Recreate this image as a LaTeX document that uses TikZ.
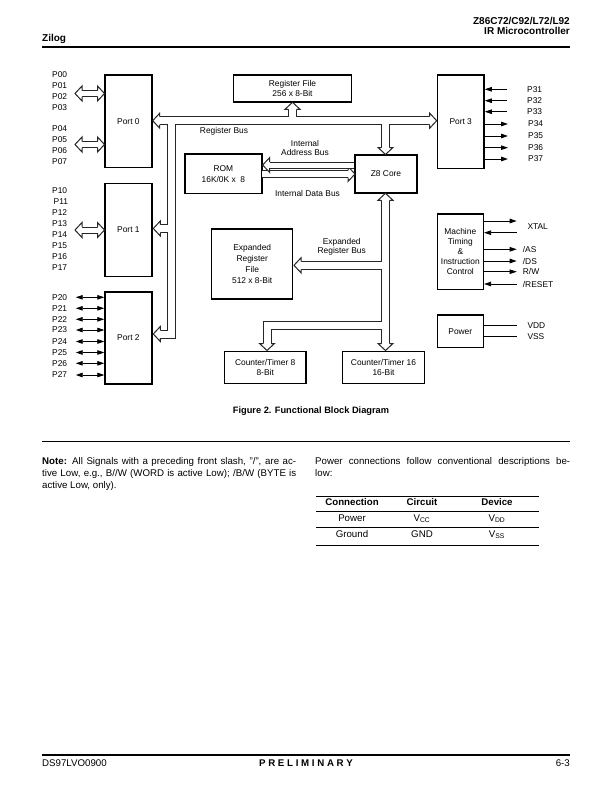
\documentclass[tikz,border=0pt]{standalone}
\usepackage{fontspec}
\setmainfont{Liberation Sans}
\usetikzlibrary{arrows.meta,positioning}

\newcommand\dfont{\fontsize{8.4}{10}\selectfont}
\newcommand\hfont{\fontsize{10}{10}\selectfont\bfseries}
\newcommand\nfont{\fontsize{9.7}{12}\selectfont}
% hollow bus head: [half shaft]{tip}{angle}
\newcommand\bushead[3][4]{%
  \filldraw[bushd,shift={(#2)},rotate=#3] (-7,#1) -- (-7,7.5) -- (0,0) -- (-7,-7.5) -- (-7,-#1);}

\tikzset{
  blk/.style={draw,line width=1.5pt,inner sep=1pt,align=center,font=\dfont},
  pinlbl/.style={anchor=west,inner sep=0pt,font=\dfont},
  buslbl/.style={inner sep=0pt,align=center,font=\fontsize{8.4}{9}\selectfont},
  busout/.style={line width=9pt,draw=black!85,line join=miter},
  busin/.style={line width=7pt,draw=white,line join=miter},
  bushd/.style={draw=black!85,fill=white,line width=1pt,line join=miter},
  sig/.style={-{Triangle[length=7pt,width=4.5pt]},line width=0.8pt},
  sigboth/.style={{Triangle[length=7pt,width=4.5pt]}-{Triangle[length=7pt,width=4.5pt]},line width=0.8pt},
}

\begin{document}
\begin{tikzpicture}[x=1pt,y=-1pt]
\fill[white] (0,0) rectangle (612,792);
\useasboundingbox (0,0) rectangle (612,792);

% page head
\node[anchor=west,inner sep=0pt,font=\hfont] (vendor) at (42,38.5) {Zilog};
\node[anchor=east,inner sep=0pt,align=right,font=\hfont] (part) at (570,26) {Z86C72/C92/L72/L92\\IR Microcontroller};
\draw[line width=1.6pt] (42,47) -- (570,47);

% blocks
\node[blk,minimum width=46.7,minimum height=92.3] (port0) at (128.4,121.2) {Port 0};
\node[blk,minimum width=46.7,minimum height=93.4] (port1) at (128.4,230) {Port 1};
\node[blk,minimum width=46.7,minimum height=92.3] (port2) at (128.4,337.9) {Port 2};
\node[blk,minimum width=46.7,minimum height=93.3] (port3) at (460.7,121.7) {Port 3};
\node[blk,minimum width=118.4,minimum height=26.7] (rf) at (292.5,88.4) {Register File\\256 x 8-Bit};
\node[blk,minimum width=76.7,minimum height=39.3,font=\fontsize{8.4}{11}\selectfont] (rom) at (223.4,173.7) {ROM\\16K/0K x~~8};
\node[blk,minimum width=62,minimum height=37.7] (z8) at (386,173.9) {Z8 Core};
\node[blk,minimum width=81,minimum height=70,font=\fontsize{8.4}{11}\selectfont] (erf) at (252.2,264.2) {Expanded\\Register\\File\\512 x 8-Bit};
\node[blk,minimum width=81.7,minimum height=31.6] (ct8) at (265.2,367.5) {Counter/Timer 8\\8-Bit};
\node[blk,minimum width=81.6,minimum height=31.6] (ct16) at (383.5,367.5) {Counter/Timer 16\\16-Bit};
\node[blk,minimum width=46,minimum height=75.3] (mtic) at (460.3,251.7) {Machine\\Timing\\\&\\Instruction\\Control};
\node[blk,minimum width=46,minimum height=32.3] (power) at (460.3,331.2) {Power};

% register bus and expanded register bus
\draw[busout] (159.7,120.7) -- (429.7,120.7);
\draw[busout] (171.5,120.7) -- (171.5,334) -- (160.3,334);
\draw[busout] (171.5,228.5) -- (160.3,228.5);
\draw[busout] (292.5,120.7) -- (292.5,109.3);
\draw[busout] (385.5,120.7) -- (385.5,147.5);
\draw[busout] (385.5,200.3) -- (385.5,343.5);
\draw[busout] (385.5,265.3) -- (301,265.3);
\draw[busout] (385.5,325) -- (267,325) -- (267,343.5);
\draw[busout,line width=7pt] (82,93.5) -- (98,93.5);
\draw[busout,line width=7pt] (82,144.5) -- (98,144.5);
\draw[busout,line width=7pt] (82,230) -- (98,230);
\draw[busin] (159.7,120.7) -- (429.7,120.7);
\draw[busin] (171.5,120.7) -- (171.5,334) -- (160.3,334);
\draw[busin] (171.5,228.5) -- (160.3,228.5);
\draw[busin] (292.5,120.7) -- (292.5,109.3);
\draw[busin] (385.5,120.7) -- (385.5,147.5);
\draw[busin] (385.5,200.3) -- (385.5,343.5);
\draw[busin] (385.5,265.3) -- (301,265.3);
\draw[busin] (385.5,325) -- (267,325) -- (267,343.5);
\draw[busin,line width=5pt] (82,93.5) -- (98,93.5);
\draw[busin,line width=5pt] (82,144.5) -- (98,144.5);
\draw[busin,line width=5pt] (82,230) -- (98,230);
\bushead{152.7,120.7}{180}
\bushead{153.3,228.5}{180}
\bushead{153.3,334}{180}
\bushead{436.7,120.7}{0}
\bushead{292.5,102.3}{90}
\bushead{385.5,154.5}{-90}
\bushead{385.5,193.3}{90}
\bushead{385.5,350.5}{-90}
\bushead{267,350.5}{-90}
\bushead{294,265.3}{180}
\bushead[3]{75,93.5}{180}
\bushead[3]{104.5,93.5}{0}
\bushead[3]{75,144.5}{180}
\bushead[3]{104.5,144.5}{0}
\bushead[3]{75,230}{180}
\bushead[3]{104.5,230}{0}

% internal data bus, then address bus over it
\draw[busout,line width=8pt] (262.4,174) -- (348,174);
\draw[busin,line width=6pt] (262.4,174) -- (348,174);
\bushead[3.5]{355,174}{0}
\draw[busout,line width=7pt] (354.4,165) -- (269.7,165);
\draw[busin,line width=5pt] (354.4,165) -- (269.7,165);
\bushead[3]{262.7,165}{180}

% bus labels
\node[buslbl] (regbus) at (224,131.5) {Register Bus};
\node[buslbl] (addrbus) at (305,148) {Internal\\Address Bus};
\node[buslbl] (databus) at (307.5,193.5) {Internal Data Bus};
\node[buslbl] (expbus) at (341.7,247) {Expanded\\Register Bus};

% port 0 pins
\node[pinlbl] (p00) at (52,75) {P00};
\node[pinlbl] (p01) at (52,86) {P01};
\node[pinlbl] (p02) at (52,97) {P02};
\node[pinlbl] (p03) at (52,108) {P03};
\node[pinlbl] (p04) at (52,129) {P04};
\node[pinlbl] (p05) at (52,140) {P05};
\node[pinlbl] (p06) at (52,151) {P06};
\node[pinlbl] (p07) at (52,162) {P07};

% port 1 pins
\node[pinlbl] (p10) at (52,190.5) {P10};
\node[pinlbl] (p11) at (53.5,201.5) {P11};
\node[pinlbl] (p12) at (52,212.5) {P12};
\node[pinlbl] (p13) at (52,223.5) {P13};
\node[pinlbl] (p14) at (52,235) {P14};
\node[pinlbl] (p15) at (52,246) {P15};
\node[pinlbl] (p16) at (52,257) {P16};
\node[pinlbl] (p17) at (52,268) {P17};

% port 2 pins
\node[pinlbl] (p20) at (52,297.3) {P20};
\node[pinlbl] (p21) at (52,308.3) {P21};
\node[pinlbl] (p22) at (52,319.3) {P22};
\node[pinlbl] (p23) at (52,330) {P23};
\node[pinlbl] (p24) at (52,341.5) {P24};
\node[pinlbl] (p25) at (52,352.5) {P25};
\node[pinlbl] (p26) at (52,363.3) {P26};
\node[pinlbl] (p27) at (52,375) {P27};
\draw[sigboth] ([xshift=8.4pt]p20.east) -- (port2.west |- p20);
\draw[sigboth] ([xshift=8.4pt]p21.east) -- (port2.west |- p21);
\draw[sigboth] ([xshift=8.4pt]p22.east) -- (port2.west |- p22);
\draw[sigboth] ([xshift=8.4pt]p23.east) -- (port2.west |- p23);
\draw[sigboth] ([xshift=8.4pt]p24.east) -- (port2.west |- p24);
\draw[sigboth] ([xshift=8.4pt]p25.east) -- (port2.west |- p25);
\draw[sigboth] ([xshift=8.4pt]p26.east) -- (port2.west |- p26);
\draw[sigboth] ([xshift=8.4pt]p27.east) -- (port2.west |- p27);

% port 3 pins
\node[pinlbl] (p31) at (527,89.3) {P31};
\node[pinlbl] (p32) at (527,100.7) {P32};
\node[pinlbl] (p33) at (527,111.7) {P33};
\node[pinlbl] (p34) at (528,124) {P34};
\node[pinlbl] (p35) at (528,136) {P35};
\node[pinlbl] (p36) at (528,147.7) {P36};
\node[pinlbl] (p37) at (528,159) {P37};
\draw[sig] ([xshift=-20pt]p31.west) -- (port3.east |- p31);
\draw[sig] ([xshift=-20pt]p32.west) -- (port3.east |- p32);
\draw[sig] ([xshift=-20pt]p33.west) -- (port3.east |- p33);
\draw[sig] (port3.east |- p34) -- ([xshift=-20pt]p34.west);
\draw[sig] (port3.east |- p35) -- ([xshift=-20pt]p35.west);
\draw[sig] (port3.east |- p36) -- ([xshift=-20pt]p36.west);
\draw[sig] (port3.east |- p37) -- ([xshift=-20pt]p37.west);

% timing and control pins
\coordinate (xtalo) at (516.7,221);
\coordinate (xtali) at (516.7,232.7);
\node[pinlbl] (xtal) at (527.3,227) {XTAL};
\draw[sig] (mtic.east |- xtalo) -- (xtalo);
\draw[sig] (xtali) -- (mtic.east |- xtali);
\node[pinlbl] (as) at (522.7,249.3) {/AS};
\node[pinlbl] (ds) at (522.7,261) {/DS};
\node[pinlbl] (rw) at (522.7,271.7) {R/W};
\node[pinlbl] (reset) at (522.7,284) {/RESET};
\draw[sig] (mtic.east |- as) -- ([xshift=-6pt]as.west);
\draw[sig] (mtic.east |- ds) -- ([xshift=-6pt]ds.west);
\draw[sig] (mtic.east |- rw) -- ([xshift=-6pt]rw.west);
\draw[sig] ([xshift=-6pt]reset.west) -- (mtic.east |- reset);

% power pins
\node[pinlbl] (vdd) at (527.3,325.7) {VDD};
\node[pinlbl] (vss) at (527.3,336.7) {VSS};
\draw[line width=0.8pt] (power.east |- vdd) -- ([xshift=-10.6pt]vdd.west);
\draw[line width=0.8pt] (power.east |- vss) -- ([xshift=-10.6pt]vss.west);

% caption
\node[font=\fontsize{9.25}{10}\selectfont\bfseries] (caption) at (311,411) {Figure 2. Functional Block Diagram};
\draw[line width=0.8pt] (42,441) -- (570,441);

% notes
\node[anchor=north west,inner sep=0pt,align=left,font=\nfont] (note) at (42,457)
  {\makebox[254pt][s]{\textbf{Note:} All Signals with a preceding front slash, "/", are ac-}\\
   \makebox[254pt][s]{tive Low, e.g., B//W (WORD is active Low); /B/W (BYTE is}\\
   active Low, only).};
\node[anchor=north west,inner sep=0pt,align=left,font=\nfont] (pwrnote) at (315,457)
  {\makebox[255pt][s]{Power connections follow conventional descriptions be-}\\
   low:};

% table
\draw[line width=1pt] (316,496.5) -- (539,496.5);
\draw[line width=0.7pt] (316,511.5) -- (539,511.5);
\draw[line width=0.7pt] (316,527.5) -- (539,527.5);
\draw[line width=0.7pt] (316,545) -- (539,545);
\node[font=\nfont\bfseries] (hcon) at (352,502.5) {Connection};
\node[font=\nfont\bfseries] (hcir) at (422,502.5) {Circuit};
\node[font=\nfont\bfseries] (hdev) at (497,502.5) {Device};
\node[font=\nfont] (cpow) at (352,518.5) {Power};
\node[font=\nfont] (vcc) at (422,518.5) {V\textsubscript{CC}};
\node[font=\nfont] (vddt) at (497,518.5) {V\textsubscript{DD}};
\node[font=\nfont] (cgnd) at (352,534.5) {Ground};
\node[font=\nfont] (gnd) at (422,534.5) {GND};
\node[font=\nfont] (vsst) at (497,534.5) {V\textsubscript{SS}};

% page foot
\draw[line width=1.6pt] (42,755) -- (570,755);
\node[anchor=west,inner sep=0pt,font=\nfont] (docno) at (42,763) {DS97LVO0900};
\node[inner sep=0pt,font=\nfont\bfseries] (prelim) at (306,763) {P R E L I M I N A R Y};
\node[anchor=east,inner sep=0pt,font=\nfont] (pageno) at (570,763) {6-3};

\end{tikzpicture}
\end{document}
